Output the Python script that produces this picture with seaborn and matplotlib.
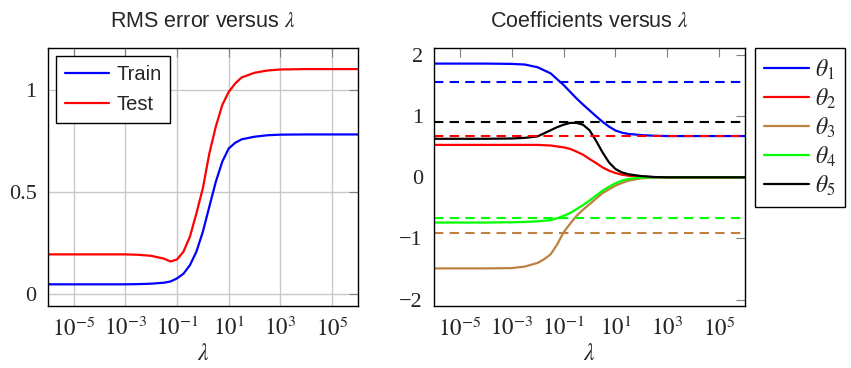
import numpy as np
import pandas as pd
import matplotlib
matplotlib.use("Agg")
import matplotlib.pyplot as plt
import seaborn as sns

log_lam_rms = [-6, -5, -4, -3, -2.5, -2, -1.5, -1.25, -1, -0.75, -0.5, -0.25, 0,
               0.25, 0.5, 0.75, 1, 1.25, 1.5, 2, 2.5, 3, 4, 5, 6]
train_rms = [0.048, 0.048, 0.048, 0.048, 0.049, 0.051, 0.056, 0.062, 0.077, 0.100,
             0.142, 0.208, 0.306, 0.429, 0.551, 0.650, 0.715, 0.743, 0.760, 0.773,
             0.780, 0.783, 0.784, 0.784, 0.784]
test_rms = [0.195, 0.195, 0.195, 0.195, 0.193, 0.188, 0.174, 0.160, 0.170, 0.208,
            0.282, 0.396, 0.520, 0.690, 0.822, 0.928, 0.993, 1.034, 1.064, 1.087,
            1.098, 1.103, 1.105, 1.105, 1.105]

log_lam_coef = [-6, -5, -4, -3, -2.5, -2, -1.75, -1.5, -1.25, -1, -0.75, -0.5, -0.25,
                0, 0.25, 0.5, 0.75, 1, 1.25, 1.5, 2, 2.5, 3, 4, 5, 6]
theta1 = [1.86, 1.86, 1.86, 1.855, 1.845, 1.80, 1.75, 1.70, 1.605, 1.51, 1.40, 1.29,
          1.19, 1.095, 1.00, 0.91, 0.83, 0.766, 0.73, 0.71, 0.69, 0.68, 0.675, 0.675,
          0.675, 0.675]
theta2 = [0.53, 0.53, 0.53, 0.53, 0.53, 0.53, 0.525, 0.52, 0.505, 0.49, 0.465, 0.42,
          0.37, 0.30, 0.235, 0.163, 0.11, 0.07, 0.043, 0.026, 0.012, 0.003, 0, 0, 0, 0]
theta3 = [-1.49, -1.49, -1.49, -1.485, -1.46, -1.40, -1.34, -1.26, -1.10, -0.90, -0.76,
          -0.63, -0.53, -0.44, -0.35, -0.26, -0.197, -0.137, -0.093, -0.055, -0.016,
          -0.004, 0, 0, 0, 0]
theta4 = [-0.74, -0.74, -0.74, -0.735, -0.73, -0.72, -0.71, -0.70, -0.67, -0.63, -0.585,
          -0.52, -0.455, -0.38, -0.30, -0.22, -0.155, -0.098, -0.055, -0.027, -0.005,
          0, 0, 0, 0, 0]
theta5 = [0.63, 0.63, 0.63, 0.635, 0.645, 0.67, 0.72, 0.77, 0.82, 0.86, 0.89, 0.89,
          0.86, 0.77, 0.60, 0.41, 0.245, 0.136, 0.08, 0.05, 0.02, 0.005, 0, 0, 0, 0]
# dashed reference levels (one per coefficient)
theta_ref = [1.56, 0.668, -0.915, -0.663, 0.90]

theta_names = ["$\\theta_1$", "$\\theta_2$", "$\\theta_3$", "$\\theta_4$", "$\\theta_5$"]
theta_colors = ["#0000ff", "#ff0000", "#bf8040", "#00ff00", "#000000"]

xtick_exps = [-5, -3, -1, 1, 3, 5]
xtick_labels = ["$10^{-5}$", "$10^{-3}$", "$10^{-1}$", "$10^{1}$", "$10^{3}$", "$10^{5}$"]
rms_yticks = [0, 0.5, 1]
rms_ylabels = ["0", "0.5", "1"]
coef_yticks = [-2, -1, 0, 1, 2]
coef_ylabels = ["\u22122", "\u22121", "0", "1", "2"]

sns.set_style("white")
plt.rcParams["font.family"] = ["Liberation Sans", "DejaVu Sans"]
plt.rcParams["mathtext.fontset"] = "stix"

W, H = 851, 368
fig = plt.figure(figsize=(W / 100, H / 100), dpi=100)
ax1 = fig.add_axes([47.7 / W, 1 - 305.7 / H, 310.3 / W, 258 / H])
ax2 = fig.add_axes([434 / W, 1 - 305.7 / H, 311 / W, 258 / H])

lam_rms = 10.0 ** np.array(log_lam_rms)
lam_coef = 10.0 ** np.array(log_lam_coef)

rms = pd.DataFrame({"lam": np.concatenate([lam_rms, lam_rms]),
                    "err": train_rms + test_rms,
                    "set": ["Train"] * len(lam_rms) + ["Test"] * len(lam_rms)})
sns.lineplot(data=rms, x="lam", y="err", hue="set", palette=["#0000ff", "#ff0000"],
             lw=1.6, ax=ax1)

thetas = [theta1, theta2, theta3, theta4, theta5]
coef = pd.DataFrame({"lam": np.tile(lam_coef, 5),
                     "val": np.concatenate(thetas),
                     "coef": np.repeat(theta_names, len(lam_coef))})
sns.lineplot(data=coef, x="lam", y="val", hue="coef", palette=theta_colors,
             lw=1.6, ax=ax2)
for r, c in zip(theta_ref, theta_colors):
    ax2.axhline(r, color=c, lw=1.5, dashes=(4.5, 3))

serif = "Liberation Serif"
for ax in (ax1, ax2):
    ax.set_xscale("log")
    ax.set_xlim(1e-6, 1e6)
    ax.set_xticks([10.0 ** e for e in xtick_exps])
    ax.set_xticklabels(xtick_labels, fontsize=16.5)
    ax.minorticks_off()
    ax.tick_params(direction="in", length=6.5, width=0.8, color="0.5",
                   top=True, right=True, pad=8)
    for s in ax.spines.values():
        s.set_color("black")
        s.set_linewidth(1.0)
    ax.set_xlabel("$\\lambda$", fontsize=17, labelpad=2)
    ax.set_ylabel("")

ax1.set_ylim(-0.057, 1.21)
ax1.set_yticks(rms_yticks)
ax1.set_yticklabels(rms_ylabels, fontsize=16, family=serif)
ax1.grid(True, color="#c8c8c8", lw=1.0)
ax1.set_title("RMS error versus $\\lambda$", fontsize=15.5, pad=15)
leg1 = ax1.legend(loc="upper left", fontsize=14.5, frameon=True, fancybox=False,
                  edgecolor="black", framealpha=1, handlelength=2.2,
                  handletextpad=0.35, borderaxespad=0.4, labelspacing=0.55,
                  borderpad=0.45)
leg1.get_frame().set_linewidth(1.0)

ax2.set_ylim(-2.1, 2.12)
ax2.set_yticks(coef_yticks)
ax2.set_yticklabels(coef_ylabels, fontsize=16, family=serif)
ax2.set_title("Coefficients versus $\\lambda$", fontsize=15.5, pad=15)
handles, labels = ax2.get_legend_handles_labels()
ax2.get_legend().remove()
leg = fig.legend(handles[:5], labels[:5], loc="upper left",
                 bbox_to_anchor=(754.5 / W, 1 - 48 / H), fontsize=17, frameon=True,
                 fancybox=False, edgecolor="black", framealpha=1, handlelength=1.9,
                 handletextpad=0.25, labelspacing=0.2, borderpad=0.4, borderaxespad=0)
leg.get_frame().set_linewidth(1.0)

fig.savefig("out.png", dpi=100)
